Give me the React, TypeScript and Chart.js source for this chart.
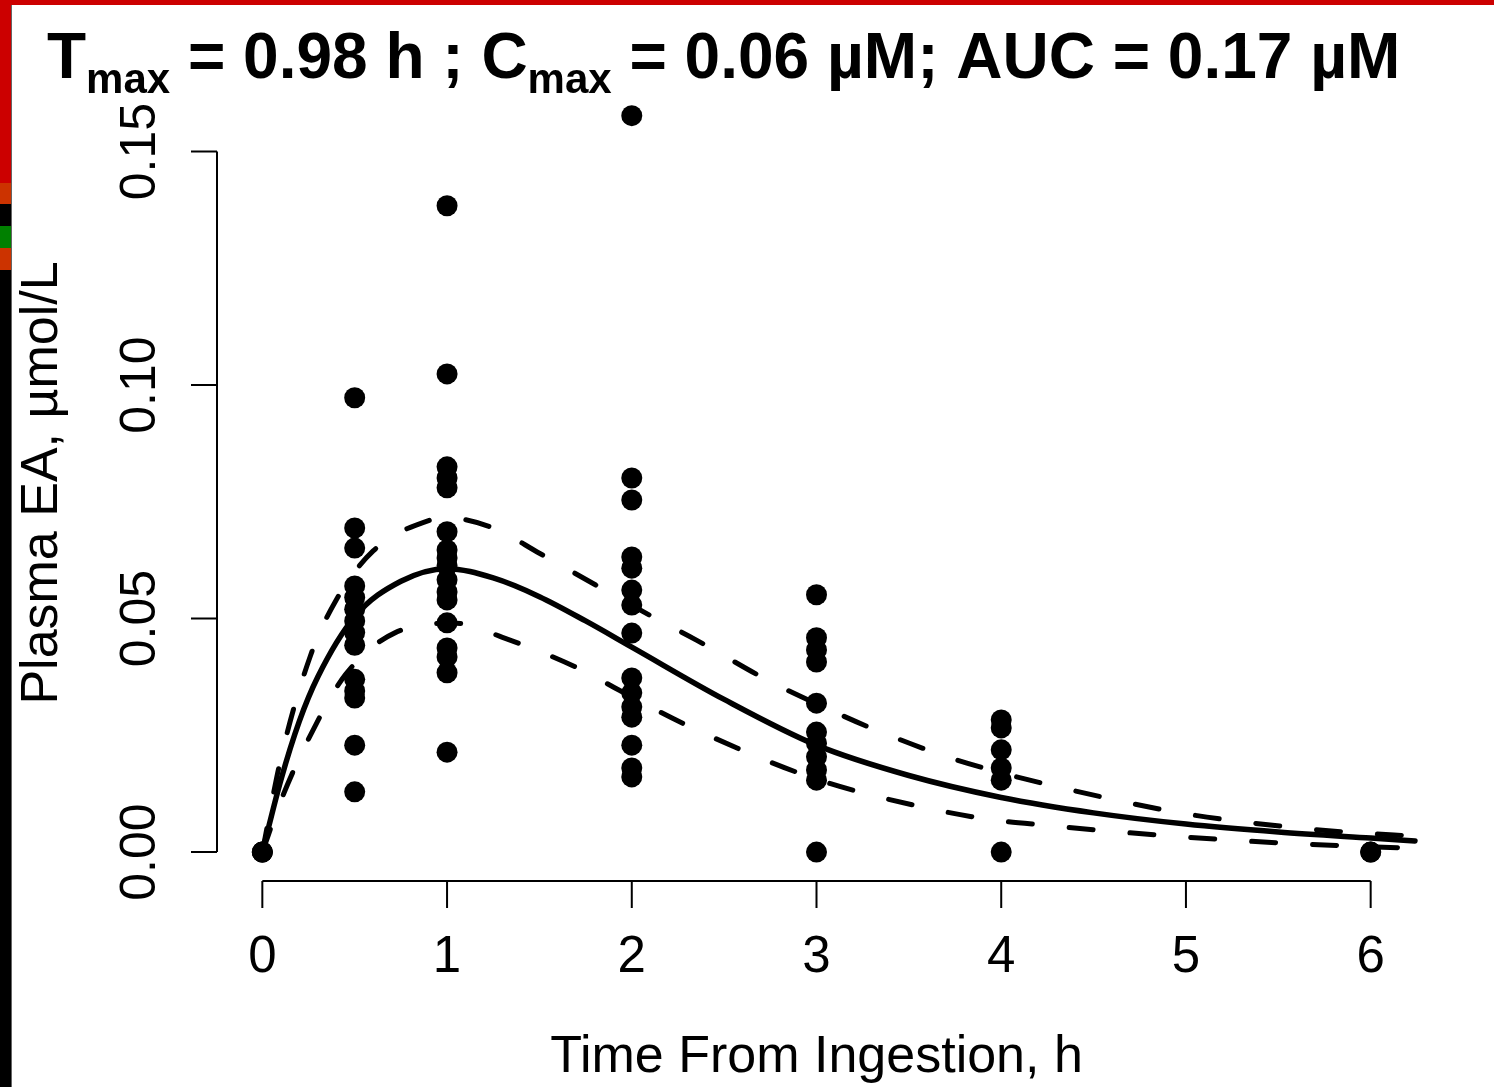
import React, { useEffect, useRef } from "react";
import { Chart, registerables } from "chart.js";

Chart.register(...registerables);

// ---- data ----
const xTickValues = [0, 1, 2, 3, 4, 5, 6];
const yTickValues = [0, 0.05, 0.1, 0.15];
const yTickLabels = ["0.00", "0.05", "0.10", "0.15"];

const obsTimes = [0, 0.5, 1, 2, 3, 4, 6];
const obsAt0 = [0, 0, 0];
const obsAt05 = [0.0973, 0.0694, 0.0651, 0.057, 0.0545, 0.052, 0.0495, 0.047, 0.0443, 0.037, 0.0345, 0.033, 0.0229, 0.0129];
const obsAt1 = [0.1384, 0.1024, 0.0825, 0.0801, 0.078, 0.0686, 0.0647, 0.063, 0.0613, 0.0583, 0.0557, 0.054, 0.0491, 0.0437, 0.0418, 0.0384, 0.0214];
const obsAt2 = [0.1577, 0.0801, 0.0754, 0.0632, 0.0608, 0.0561, 0.0529, 0.0469, 0.0373, 0.0341, 0.0311, 0.0289, 0.0229, 0.018, 0.0161];
const obsAt3 = [0.0551, 0.0459, 0.0433, 0.0407, 0.0319, 0.0257, 0.0233, 0.0204, 0.0176, 0.0154, 0];
const obsAt4 = [0.0283, 0.0266, 0.0219, 0.018, 0.0154, 0];
const obsAt6 = [0, 0];
const obsValues = [obsAt0, obsAt05, obsAt1, obsAt2, obsAt3, obsAt4, obsAt6];

const fitTimes = [0, 0.1, 0.2, 0.3, 0.5, 0.75, 1.0, 1.25, 1.5, 1.75, 2.0, 2.5, 3.0, 3.5, 4.0, 4.5, 5.0, 5.5, 6.0, 6.24];
const fitMedian = [0, 0.0154, 0.028, 0.0375, 0.0504, 0.058, 0.0607, 0.0587, 0.0547, 0.0495, 0.0439, 0.0327, 0.0229, 0.0164, 0.0117, 0.0084, 0.006, 0.0043, 0.003, 0.0024];

const upperTimes = [0, 0.1, 0.26, 0.4, 0.6, 0.9, 1.0, 1.25, 1.5, 1.8, 2.13, 2.35, 2.75, 3.07, 3.3, 3.7, 4.0, 4.28, 5.0, 5.6, 5.9, 6.24];
const upperBand = [0, 0.02, 0.042, 0.054, 0.0645, 0.071, 0.0716, 0.0694, 0.064, 0.0573, 0.05, 0.0454, 0.0365, 0.0305, 0.0265, 0.0205, 0.017, 0.0142, 0.0082, 0.0052, 0.0042, 0.0034];

const lowerTimes = [0, 0.1, 0.26, 0.45, 0.72, 1.05, 1.3, 1.73, 1.93, 2.28, 2.9, 3.25, 3.9, 4.25, 5.0, 5.6, 6.24];
const lowerBand = [0, 0.011, 0.025, 0.038, 0.047, 0.049, 0.046, 0.039, 0.0347, 0.0275, 0.017, 0.0127, 0.0072, 0.0057, 0.0032, 0.0018, 0.0008];

const titleParts: [string, boolean][] = [
  ["T", false],
  ["max", true],
  [" = 0.98 h ; C", false],
  ["max", true],
  [" = 0.06 \u00B5M; AUC = 0.17 \u00B5M", false],
];
const xAxisTitle = "Time From Ingestion, h";
const yAxisTitle = "Plasma EA, \u00B5mol/L";

const W = 1494;
const H = 1087;
const FONT = '"Liberation Sans", Arial, sans-serif';

const decorPlugin = {
  id: "decor",
  beforeDraw(chart: any) {
    const ctx = chart.ctx;
    ctx.save();
    ctx.fillStyle = "#ffffff";
    ctx.fillRect(0, 0, W, H);
    ctx.fillStyle = "#cc0000";
    ctx.fillRect(0, 0, W, 5);
    const segs: [number, number, string][] = [
      [0, 183, "#cc0000"],
      [183, 204, "#cc3300"],
      [204, 226, "#000000"],
      [226, 248, "#008000"],
      [248, 270, "#cc3300"],
      [270, H, "#000000"],
    ];
    segs.forEach(([a, b, c]) => {
      ctx.fillStyle = c;
      ctx.fillRect(0, a, 11, b - a);
    });
    ctx.fillStyle = "#666666";
    ctx.fillRect(11, 5, 1, H - 5);
    ctx.restore();
  },
  afterDraw(chart: any) {
    const ctx = chart.ctx;
    const xs = chart.scales.x;
    const ys = chart.scales.y;
    const area = chart.chartArea;
    ctx.save();
    ctx.strokeStyle = "#000";
    ctx.fillStyle = "#000";
    ctx.lineWidth = 2;
    ctx.lineCap = "butt";
    const xAxisY = area.bottom - 1;
    const x0 = xs.getPixelForValue(xTickValues[0]);
    const x1 = xs.getPixelForValue(xTickValues[xTickValues.length - 1]);
    ctx.beginPath();
    ctx.moveTo(x0, xAxisY);
    ctx.lineTo(x1, xAxisY);
    xTickValues.forEach((v) => {
      const px = xs.getPixelForValue(v);
      ctx.moveTo(px, xAxisY);
      ctx.lineTo(px, xAxisY + 27);
    });
    ctx.stroke();
    ctx.font = `51px ${FONT}`;
    ctx.textAlign = "center";
    ctx.textBaseline = "alphabetic";
    xTickValues.forEach((v) => {
      ctx.fillText(String(v), xs.getPixelForValue(v), 972);
    });
    const yAxisX = area.left - 1;
    const y0 = ys.getPixelForValue(yTickValues[0]);
    const y1 = ys.getPixelForValue(yTickValues[yTickValues.length - 1]);
    ctx.beginPath();
    ctx.moveTo(yAxisX, y0);
    ctx.lineTo(yAxisX, y1);
    yTickValues.forEach((v) => {
      const py = ys.getPixelForValue(v);
      ctx.moveTo(yAxisX, py);
      ctx.lineTo(yAxisX - 26, py);
    });
    ctx.stroke();
    ctx.font = `50px ${FONT}`;
    yTickValues.forEach((v, i) => {
      ctx.save();
      ctx.translate(155, ys.getPixelForValue(v));
      ctx.rotate(-Math.PI / 2);
      ctx.fillText(yTickLabels[i], 0, 0);
      ctx.restore();
    });
    ctx.font = `52px ${FONT}`;
    ctx.fillText(xAxisTitle, (area.left + area.right) / 2, 1072);
    ctx.save();
    ctx.translate(57, 483);
    ctx.rotate(-Math.PI / 2);
    ctx.fillText(yAxisTitle, 0, 0);
    ctx.restore();
    ctx.textAlign = "left";
    let tx = 47;
    titleParts.forEach(([txt, sub]) => {
      ctx.font = sub ? `bold 42px ${FONT}` : `bold 64px ${FONT}`;
      ctx.fillText(txt, tx, sub ? 93 : 78);
      tx += ctx.measureText(txt).width;
    });
    ctx.restore();
  },
};

export default function App() {
  const ref = useRef<HTMLCanvasElement | null>(null);
  useEffect(() => {
    document.body.style.margin = "0";
    const canvas = ref.current;
    if (!canvas) return;
    const points: { x: number; y: number }[] = [];
    obsTimes.forEach((t, i) => obsValues[i].forEach((v) => points.push({ x: t, y: v })));
    const toXY = (ts: number[], vs: number[]) => ts.map((t, i) => ({ x: t, y: vs[i] }));
    const lineBase = {
      type: "line" as const,
      pointRadius: 0,
      borderColor: "#000",
      backgroundColor: "#000",
      fill: false,
      cubicInterpolationMode: "monotone" as const,
      borderCapStyle: "round" as const,
    };
    const chart = new Chart(canvas, {
      type: "scatter",
      data: {
        datasets: [
          { ...lineBase, data: toXY(fitTimes, fitMedian), borderWidth: 5.5 } as any,
          { ...lineBase, data: toXY(upperTimes, upperBand), borderWidth: 5, borderDash: [24, 37] } as any,
          { ...lineBase, data: toXY(lowerTimes, lowerBand), borderWidth: 5, borderDash: [24, 37] } as any,
          {
            type: "scatter",
            data: points,
            pointRadius: 10.5,
            pointBackgroundColor: "#000",
            pointBorderColor: "#000",
            pointBorderWidth: 0,
          } as any,
        ],
      },
      options: {
        responsive: false,
        animation: false,
        devicePixelRatio: 1,
        layout: { padding: { left: 218, top: 75, right: W - 1415, bottom: H - 882 } },
        plugins: { legend: { display: false }, tooltip: { enabled: false }, title: { display: false } },
        scales: {
          x: { type: "linear", min: -0.24, max: 6.24, display: false },
          y: { type: "linear", min: -0.0064, max: 0.1664, display: false },
        },
        clip: false as any,
      },
      plugins: [decorPlugin],
    });
    return () => chart.destroy();
  }, []);
  return <canvas ref={ref} width={W} height={H} style={{ display: "block" }} />;
}
